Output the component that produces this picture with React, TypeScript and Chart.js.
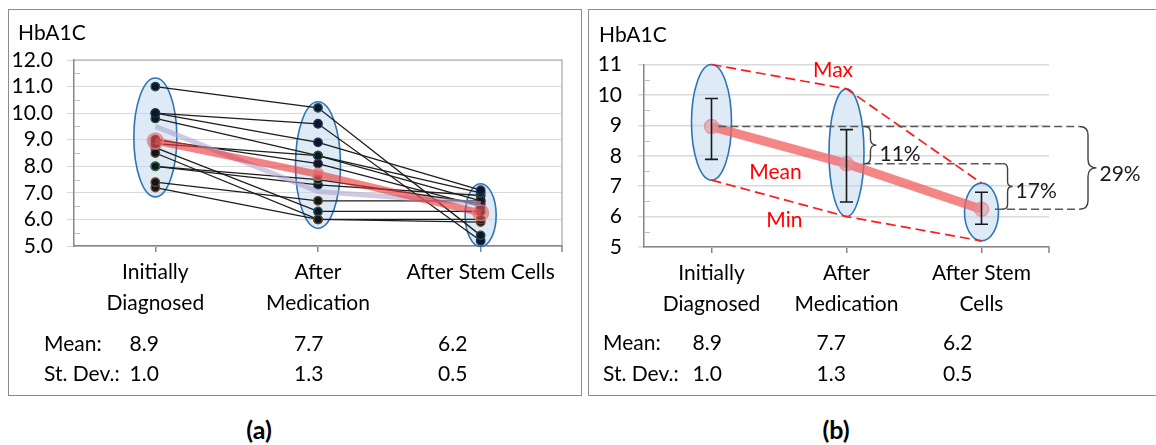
import React, { useEffect, useRef } from "react";
import { Chart, registerables } from "chart.js";

Chart.register(...registerables);

const FONT = "Lato, 'Open Sans', 'DejaVu Sans', sans-serif";

// ---------------- Data: panel (a) ----------------
const categoriesA = [["Initially", "Diagnosed"], ["After", "Medication"], "After Stem Cells"];
const initialValues = [11.0, 10.0, 10.0, 9.8, 9.0, 8.85, 8.5, 8.7, 8.0, 8.0, 7.4, 7.2];
const medicationValues = [10.2, 9.6, 8.9, 8.4, 8.1, 8.4, 6.0, 6.3, 7.5, 7.3, 6.7, 6.0];
const stemCellValues = [5.4, 5.2, 7.1, 7.0, 6.5, 6.7, 6.0, 6.3, 6.6, 6.9, 6.7, 5.9];
const meanLineA = [8.95, 7.7, 6.25];
const trendLineA = [9.5, 7.05, 6.6];
const ellipseLowA = [6.85, 5.67, 4.98];
const ellipseHighA = [11.32, 10.43, 7.34];
const yRangeA = [5, 12];

// ---------------- Data: panel (b) ----------------
const categoriesB = [["Initially", "Diagnosed"], ["After", "Medication"], ["After Stem", "Cells"]];
const meanLineB = [8.96, 7.74, 6.24];
const maxLineB = [11.0, 10.2, 7.1];
const minLineB = [7.2, 6.0, 5.2];
const errLowB = [7.88, 6.48, 5.75];
const errHighB = [9.88, 8.86, 6.8];
const yRangeB = [5, 11];
const braceLabels = ["11%", "17%", "29%"];
const braceTops = [8.96, 7.74, 8.96];
const braceBottoms = [7.74, 6.24, 6.24];
const braceLabelValues = [8.09, 6.87, 7.43];
const lineLabels = ["Max", "Mean", "Min"];
const lineLabelValues = [10.85, 7.47, 5.9];

// ---------------- Table text ----------------
const meanText = ["8.9", "7.7", "6.2"];
const sdText = ["1.0", "1.3", "0.5"];

// ---------------- Styles / positions ----------------
const STYLE = {
  ellipseFill: "rgba(190,215,238,0.5)",
  ellipseStroke: "#2e75b6",
  ellipseWidthA: [43, 45, 31],
  ellipseWidthB: [40, 35, 34],
  axis: "#868686",
  grid: "#d9d9d9",
  rings: ["#1f4f58", "#1c2f55", "#2c2c66", "#24553a", "#3a2348", "#552222", "#6a4618", "#1f4f58", "#3c6e30", "#1a3358", "#6a4618", "#8a3e22"],
  braceAt: [1.133, 2.156, 2.726],
  braceDepth: [12, 10, 17],
  dashFrom: [0.05, 1.12, 2.1],
  dashTo: [2.726, 2.156, 2.726],
  dashValues: [0, 1, 2],
  lineLabelAt: [0.9, 0.474, 0.54],
};

function xAt(chart: any, f: number) {
  const x = chart.scales.x;
  const p0 = x.getPixelForValue(0);
  const p1 = x.getPixelForValue(1);
  return p0 + f * (p1 - p0);
}

function drawEllipses(chart: any, lows: number[], highs: number[], widths: number[]) {
  const { ctx, scales } = chart;
  const { x, y } = scales;
  ctx.save();
  lows.forEach((lo, i) => {
    const cx = x.getPixelForValue(i);
    const top = y.getPixelForValue(highs[i]);
    const bot = y.getPixelForValue(lo);
    ctx.beginPath();
    ctx.ellipse(cx, (top + bot) / 2, widths[i] / 2, (bot - top) / 2, 0, 0, Math.PI * 2);
    ctx.fillStyle = STYLE.ellipseFill;
    ctx.fill();
    ctx.lineWidth = 1.6;
    ctx.strokeStyle = STYLE.ellipseStroke;
    ctx.stroke();
  });
  ctx.restore();
}

function drawAxisExtras(chart: any, frame: boolean) {
  const { ctx, chartArea: ca, scales } = chart;
  const y = scales.y;
  ctx.save();
  ctx.strokeStyle = "#bfbfbf";
  ctx.lineWidth = 1;
  for (let v = y.min + 0.5; v < y.max; v += 1) {
    const py = Math.round(y.getPixelForValue(v)) + 0.5;
    ctx.beginPath();
    ctx.moveTo(ca.left, py);
    ctx.lineTo(ca.left + 6, py);
    ctx.stroke();
  }
  ctx.strokeStyle = STYLE.axis;
  ctx.lineWidth = 1.5;
  ctx.beginPath();
  ctx.moveTo(ca.right, ca.bottom);
  ctx.lineTo(ca.right, ca.bottom + 6);
  ctx.stroke();
  if (frame) {
    ctx.strokeStyle = "#a6a6a6";
    ctx.lineWidth = 1.2;
    ctx.beginPath();
    ctx.moveTo(ca.left, ca.top);
    ctx.lineTo(ca.right, ca.top);
    ctx.lineTo(ca.right, ca.bottom);
    ctx.stroke();
  }
  ctx.restore();
}

function drawBrace(ctx: any, x: number, yTop: number, yBot: number, w: number) {
  const ym = (yTop + yBot) / 2;
  const r = Math.min(w * 0.5, (yBot - yTop) / 4);
  const xr = x + w * 0.5;
  ctx.beginPath();
  ctx.moveTo(x, yTop);
  ctx.quadraticCurveTo(xr, yTop, xr, yTop + r);
  ctx.lineTo(xr, ym - r);
  ctx.quadraticCurveTo(xr, ym, x + w, ym);
  ctx.quadraticCurveTo(xr, ym, xr, ym + r);
  ctx.lineTo(xr, yBot - r);
  ctx.quadraticCurveTo(xr, yBot, x, yBot);
  ctx.stroke();
}

const panelAPlugin = {
  id: "panelA",
  beforeDatasetsDraw(chart: any) {
    drawAxisExtras(chart, true);
    drawEllipses(chart, ellipseLowA, ellipseHighA, STYLE.ellipseWidthA);
  },
};

const panelBPlugin = {
  id: "panelB",
  beforeDatasetsDraw(chart: any) {
    drawAxisExtras(chart, false);
    drawEllipses(chart, minLineB, maxLineB, STYLE.ellipseWidthB);
  },
  afterDatasetsDraw(chart: any) {
    const { ctx, scales } = chart;
    const { x, y } = scales;
    ctx.save();
    // error bars
    ctx.strokeStyle = "#1a1a1a";
    ctx.lineWidth = 1.6;
    errLowB.forEach((lo, i) => {
      const cx = x.getPixelForValue(i);
      const t = y.getPixelForValue(errHighB[i]);
      const b = y.getPixelForValue(lo);
      ctx.beginPath();
      ctx.moveTo(cx, t);
      ctx.lineTo(cx, b);
      ctx.moveTo(cx - 6.5, t);
      ctx.lineTo(cx + 6.5, t);
      ctx.moveTo(cx - 6.5, b);
      ctx.lineTo(cx + 6.5, b);
      ctx.stroke();
    });
    // gray dashed reference lines
    ctx.strokeStyle = "#595959";
    ctx.lineWidth = 1.5;
    ctx.setLineDash([8, 4]);
    STYLE.dashValues.forEach((idx, k) => {
      const py = y.getPixelForValue(meanLineB[idx]);
      ctx.beginPath();
      ctx.moveTo(xAt(chart, STYLE.dashFrom[k]), py);
      ctx.lineTo(xAt(chart, STYLE.dashTo[k]), py);
      ctx.stroke();
    });
    ctx.setLineDash([]);
    // braces + labels
    ctx.strokeStyle = "#404040";
    ctx.lineWidth = 1.4;
    ctx.font = `21px ${FONT}`;
    ctx.fillStyle = "#1a1a1a";
    ctx.textAlign = "left";
    ctx.textBaseline = "alphabetic";
    braceLabels.forEach((txt, i) => {
      const bx = xAt(chart, STYLE.braceAt[i]);
      drawBrace(ctx, bx, y.getPixelForValue(braceTops[i]), y.getPixelForValue(braceBottoms[i]), STYLE.braceDepth[i]);
      ctx.fillText(txt, bx + STYLE.braceDepth[i] + 3, y.getPixelForValue(braceLabelValues[i]) + 7.5);
    });
    // red labels
    ctx.fillStyle = "#ff0000";
    ctx.textAlign = "center";
    lineLabels.forEach((txt, i) => {
      ctx.fillText(txt, xAt(chart, STYLE.lineLabelAt[i]), y.getPixelForValue(lineLabelValues[i]) + 7.5);
    });
    ctx.restore();
  },
};

function baseScales(yRange: number[], yWidth: number, yTick: number, yPad: number, decimals: number, gridWidth: number) {
  return {
    x: {
      type: "category",
      offset: true,
      grid: { display: true, drawOnChartArea: false, drawTicks: true, tickLength: 6, color: STYLE.axis, lineWidth: 1.5, offset: false },
      border: { display: true, color: STYLE.axis, width: 1.5 },
      ticks: { color: "#000", font: { family: FONT, size: 21, lineHeight: 1.5 }, padding: 4, maxRotation: 0, minRotation: 0, autoSkip: false },
      afterFit: (s: any) => {
        s.height = 80;
      },
    },
    y: {
      type: "linear",
      min: yRange[0],
      max: yRange[1],
      grid: { color: STYLE.grid, lineWidth: gridWidth, tickLength: yTick, drawTicks: true },
      border: { display: true, color: STYLE.axis, width: 1.5 },
      ticks: {
        stepSize: 1,
        autoSkip: false,
        color: "#000",
        font: { family: FONT, size: 21 },
        padding: yPad,
        callback: (v: any) => Number(v).toFixed(decimals),
      },
      afterFit: (s: any) => {
        s.width = yWidth;
      },
    },
  };
}

function configA(): any {
  const patientSets = initialValues.map((v, i) => ({
    label: `P${i + 1}`,
    data: [v, medicationValues[i], stemCellValues[i]],
    borderColor: "#1c1c1c",
    borderWidth: 1.3,
    pointRadius: 4.2,
    pointBackgroundColor: "#0b1626",
    pointBorderColor: STYLE.rings[i],
    pointBorderWidth: 1.4,
    order: 2,
    clip: false,
  }));
  return {
    type: "line",
    data: {
      labels: categoriesA,
      datasets: [
        {
          label: "Mean",
          data: meanLineA,
          borderColor: "rgba(232,56,56,0.62)",
          borderWidth: 7,
          pointRadius: [8, 6, 8],
          pointBackgroundColor: "rgba(235,90,90,0.6)",
          pointBorderColor: "rgba(225,140,140,0.75)",
          pointBorderWidth: 1.5,
          order: 0,
          clip: false,
        },
        {
          label: "Trend",
          data: trendLineA,
          borderColor: "rgba(175,165,205,0.6)",
          borderWidth: 5,
          pointRadius: 0,
          order: 1,
          clip: false,
        },
        ...patientSets,
      ],
    },
    options: {
      responsive: false,
      animation: false,
      devicePixelRatio: 1,
      layout: { padding: { left: 0, top: 50, right: 19, bottom: 69 } },
      plugins: { legend: { display: false }, tooltip: { enabled: false }, title: { display: false } },
      scales: baseScales(yRangeA, 65, 7, 14, 1, 1),
    },
    plugins: [panelAPlugin],
  };
}

function configB(): any {
  return {
    type: "line",
    data: {
      labels: categoriesB,
      datasets: [
        {
          label: "Mean",
          data: meanLineB,
          borderColor: "rgba(242,100,100,0.78)",
          borderWidth: 9,
          pointRadius: 7,
          pointBackgroundColor: "rgba(225,150,160,0.6)",
          pointBorderColor: "rgba(230,140,150,0.8)",
          pointBorderWidth: 1.5,
          order: 0,
          clip: false,
        },
        {
          label: "Max",
          data: maxLineB,
          borderColor: "#ff1a1a",
          borderWidth: 1.7,
          borderDash: [10, 5],
          pointRadius: 0,
          order: 1,
          clip: false,
        },
        {
          label: "Min",
          data: minLineB,
          borderColor: "#ff1a1a",
          borderWidth: 1.7,
          borderDash: [10, 5],
          pointRadius: 0,
          order: 1,
          clip: false,
        },
      ],
    },
    options: {
      responsive: false,
      animation: false,
      devicePixelRatio: 1,
      layout: { padding: { left: 0, top: 54.5, right: 120, bottom: 68 } },
      plugins: { legend: { display: false }, tooltip: { enabled: false }, title: { display: false } },
      scales: baseScales(yRangeB, 55, 6, 16, 0, 1.5),
    },
    plugins: [panelBPlugin],
  };
}

function Txt(props: { x: number; cy: number; text: string; size?: number; bold?: boolean; center?: boolean }) {
  const size = props.size ?? 21;
  const lh = size * 1.2;
  const top = props.cy - (props.bold ? 0.667 : 0.63) * size;
  const style: any = {
    position: "absolute",
    top,
    fontSize: size,
    lineHeight: `${lh}px`,
    fontWeight: props.bold ? 700 : 400,
    color: "#000",
    whiteSpace: "pre",
  };
  if (props.center) {
    style.left = props.x - 60;
    style.width = 120;
    style.textAlign = "center";
  } else {
    style.left = props.x;
  }
  return <div style={style}>{props.text}</div>;
}

export default function App() {
  const refA = useRef<HTMLCanvasElement>(null);
  const refB = useRef<HTMLCanvasElement>(null);

  useEffect(() => {
    Chart.defaults.font.family = FONT;
    const charts: Chart[] = [];
    if (refA.current) charts.push(new Chart(refA.current, configA()));
    if (refB.current) charts.push(new Chart(refB.current, configB()));
    let alive = true;
    const fonts: any = (document as any).fonts;
    if (fonts && fonts.load) {
      Promise.all([fonts.load(`21px Lato`), fonts.load(`bold 25px Lato`)])
        .then(() => {
          if (alive) charts.forEach((c) => c.update("none"));
        })
        .catch(() => {});
    }
    return () => {
      alive = false;
      charts.forEach((c) => c.destroy());
    };
  }, []);

  const boxBase: any = { position: "absolute", top: 9, height: 385, border: "1px solid #8c8c8c", background: "#fff" };

  return (
    <div style={{ position: "absolute", left: 0, top: 0, width: 1156, height: 445, overflow: "hidden", background: "#fff", fontFamily: FONT }}>
      <div style={{ ...boxBase, left: 8, width: 572 }}>
        <canvas ref={refA} width={572} height={385} style={{ display: "block" }} />
      </div>
      <div style={{ ...boxBase, left: 588, width: 580 }}>
        <canvas ref={refB} width={580} height={385} style={{ display: "block" }} />
      </div>

      <Txt x={18} cy={32} text="HbA1C" />
      <Txt x={599} cy={34} text="HbA1C" />

      <Txt x={44} cy={343} text="Mean:" />
      <Txt x={44} cy={373} text="St. Dev.:" />
      {[129.5, 294, 438].map((px, i) => (
        <React.Fragment key={`a${i}`}>
          <Txt x={px} cy={343} text={meanText[i]} />
          <Txt x={px} cy={373} text={sdText[i]} />
        </React.Fragment>
      ))}

      <Txt x={603} cy={342} text="Mean:" />
      <Txt x={603} cy={373} text="St. Dev.:" />
      {[692.5, 816.5, 943].map((px, i) => (
        <React.Fragment key={`b${i}`}>
          <Txt x={px} cy={342} text={meanText[i]} />
          <Txt x={px} cy={373} text={sdText[i]} />
        </React.Fragment>
      ))}

      <Txt x={259} cy={431} text="(a)" size={25} bold center />
      <Txt x={836} cy={431} text="(b)" size={25} bold center />
    </div>
  );
}
